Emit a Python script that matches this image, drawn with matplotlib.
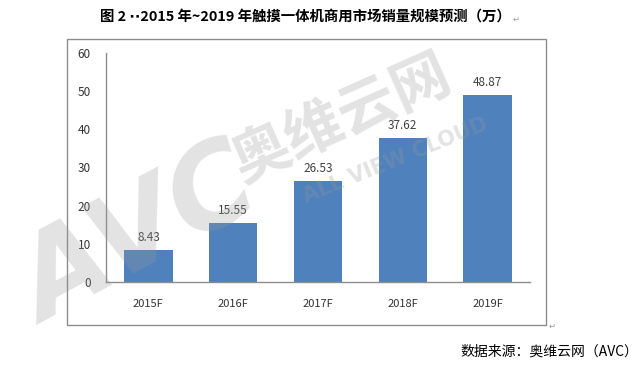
import matplotlib
matplotlib.use("Agg")
import matplotlib.pyplot as plt
from matplotlib.patches import Rectangle

plt.rcParams['font.family'] = ['Noto Sans CJK SC', 'DejaVu Sans']

# chart data
years = ["2015F", "2016F", "2017F", "2018F", "2019F"]
sales = [8.43, 15.55, 26.53, 37.62, 48.87]
y_ticks = [0, 10, 20, 30, 40, 50, 60]

title = "图 2 ⋅⋅2015 年~2019 年触摸一体机商用市场销量规模预测（万）"
source = "数据来源：奥维云网（AVC）"

W, H = 640, 370
fig = plt.figure(figsize=(6.4, 3.7), dpi=100)

# outer frame of the chart (pixel coords -> figure fraction)
fig.patches.append(Rectangle((67 / W, 1 - 325 / H), (546 - 67) / W, (325 - 39) / H,
                             transform=fig.transFigure, fill=False,
                             edgecolor="#8c8c8c", linewidth=1.0))

ax = fig.add_axes([106 / W, 1 - 282 / H, (530 - 106) / W, (282 - 53) / H])
bars = ax.bar(range(len(years)), sales, width=0.57, color="#4F81BD", zorder=2)
for b, v in zip(bars, sales):
    ax.text(b.get_x() + b.get_width() / 2, v + 1.6, f"{v:.2f}", ha="center",
            va="bottom", fontsize=8.5, color="#404040")

ax.set_xlim(-0.5, len(years) - 0.5)
ax.set_ylim(0, 60)
ax.set_yticks(y_ticks)
ax.set_xticks(range(len(years)))
ax.set_xticklabels(years, fontsize=8, color="#333333")
ax.tick_params(axis="y", length=0, pad=11, labelsize=8.5, labelcolor="#333333")
ax.tick_params(axis="x", length=0, pad=12)
for s in ["top", "right"]:
    ax.spines[s].set_visible(False)
for s in ["left", "bottom"]:
    ax.spines[s].set_color("#8c8c8c")
    ax.spines[s].set_linewidth(1.0)

# title and source
fig.text(305 / W, 1 - 17 / H, title, ha="center", va="center",
         fontsize=10.4, fontweight="bold", color="black")
fig.text(513 / W, 1 - 19 / H, "↵", ha="left", va="center", fontsize=6,
         color="#999999", family=["DejaVu Sans"])
fig.text(549 / W, 1 - 326 / H, "↵", ha="left", va="center", fontsize=6,
         color="#999999", family=["DejaVu Sans"])
fig.text(638 / W, 1 - 352 / H, source, ha="right", va="center",
         fontsize=10, color="black")

# faint watermark
wm = dict(color="#9a9a9a", alpha=0.28, fontweight="bold", ha="center",
          va="center", zorder=10, transform=fig.transFigure)
fig.text(140 / W, 1 - 238 / H, "AVC", fontsize=82, rotation=28,
         style="italic", family=["DejaVu Sans"], **wm)
fig.text(342 / W, 1 - 120 / H, "奥维云网", fontsize=42, rotation=24, **wm)
fig.text(395 / W, 1 - 160 / H, "ALL VIEW CLOUD", fontsize=15, rotation=22,
         family=["DejaVu Sans"], **wm)

fig.savefig("out.png", dpi=100)
